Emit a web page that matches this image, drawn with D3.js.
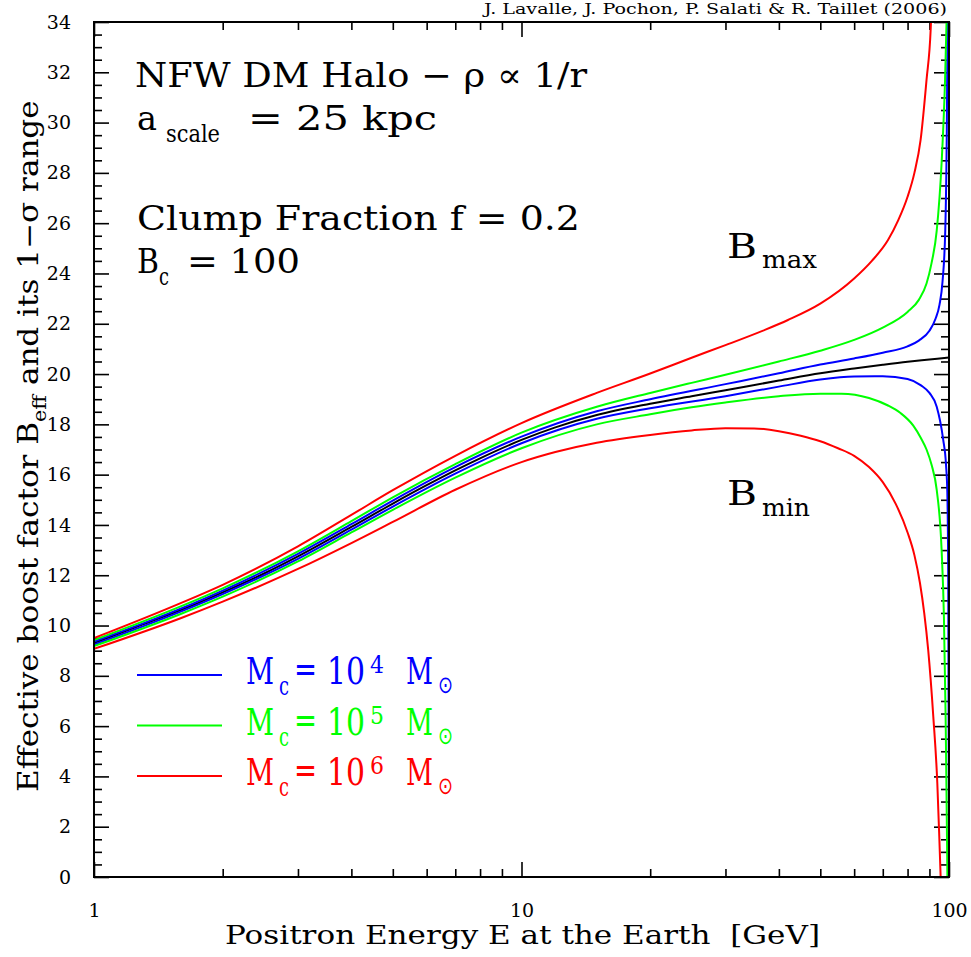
<!DOCTYPE html>
<html>
<head>
<meta charset="utf-8">
<script src="https://cdn.jsdelivr.net/npm/d3@7"></script>
<style>
  body { margin: 0; background: #fff; }
  svg { display: block; font-family: "DejaVu Serif", serif; }
</style>
</head>
<body>
<svg id="chart" width="971" height="957"></svg>
<script>
// [E (GeV), B_eff] pairs
const meanCurve = [[1,9.3],[1.25,9.93],[1.6,10.62],[2,11.32],[2.5,12.07],[3,12.75],[4,13.92],[5,14.85],[6,15.58],[7,16.17],[8,16.65],[10,17.38],[12,17.88],[15,18.37],[20,18.82],[25,19.12],[30,19.36],[40,19.74],[50,20.03],[60,20.22],[70,20.37],[80,20.49],[90,20.58],[100,20.66]];

const blueUpper = [[1,9.36],[1.6,10.68],[2,11.39],[3,12.85],[4,14.03],[5,14.97],[7,16.3],[10,17.51],[15,18.52],[20,19.0],[30,19.6],[40,20.03],[50,20.38],[60,20.62],[70,20.85],[80,21.1],[85,21.33],[90,21.72],[93,22.2],[95,22.75],[96.6,23.7],[98,25.7],[98.8,29.5],[99.3,34.5]];
const blueLower = [[1,9.24],[1.6,10.56],[2,11.25],[3,12.65],[4,13.81],[5,14.73],[7,16.04],[10,17.25],[15,18.22],[20,18.64],[30,19.12],[40,19.5],[50,19.78],[60,19.9],[70,19.91],[80,19.8],[86,19.55],[90,19.25],[93.6,18.7],[96.9,17.4],[98.4,16.4],[99.1,15.3],[99.6,11.7],[99.85,5],[100,0]];

const greenUpper = [[1,9.42],[1.6,10.77],[2,11.48],[3,12.95],[4,14.15],[5,15.1],[7,16.42],[10,17.67],[15,18.7],[20,19.25],[25,19.65],[30,19.97],[40,20.5],[50,20.93],[60,21.36],[70,21.85],[80,22.47],[85,22.95],[88.6,23.6],[91,24.4],[93.6,25.7],[96.1,28.4],[97.9,31.7],[98.85,34.5]];
const greenLower = [[1,9.18],[1.6,10.47],[2,11.15],[3,12.55],[4,13.7],[5,14.6],[7,15.88],[10,17.05],[15,18.0],[20,18.4],[25,18.68],[30,18.87],[40,19.12],[50,19.22],[56,19.22],[65,19.05],[72,18.75],[77,18.45],[82.5,17.95],[86,17.45],[88.6,17.0],[91,16.4],[93.6,15.39],[96.1,13.0],[97.3,10.35],[98.2,6.37],[98.8,2.4],[99.15,0]];

const redUpper = [[1,9.5],[1.6,10.9],[2,11.62],[3,13.15],[4,14.4],[5,15.38],[7,16.75],[10,18.05],[15,19.25],[20,20.02],[25,20.65],[30,21.15],[37,21.75],[42,22.15],[50,22.8],[60,23.8],[66,24.5],[72,25.33],[76,26.1],[80,27.05],[83,28.0],[85.8,29.3],[88.6,31.7],[90.6,33.7],[91,34.5]];
const redLower = [[1,9.07],[1.6,10.3],[2,10.95],[3,12.25],[4,13.28],[5,14.12],[7,15.4],[10,16.5],[12,16.9],[15,17.27],[20,17.58],[25,17.76],[30,17.85],[35,17.84],[40,17.73],[45,17.55],[50,17.33],[55,17.05],[60,16.75],[65,16.3],[70,15.7],[75,14.85],[80,13.7],[83,12.8],[85.5,11.7],[87.5,10.5],[89.4,9.03],[91.9,6.37],[93.9,3.73],[94.9,1.6],[95.6,0]];

const series = [
  { name: "mean", color: "#000000", pts: meanCurve },
  { name: "1e4 up", color: "#0000ff", pts: blueUpper },
  { name: "1e4 lo", color: "#0000ff", pts: blueLower },
  { name: "1e5 up", color: "#00ff00", pts: greenUpper },
  { name: "1e5 lo", color: "#00ff00", pts: greenLower },
  { name: "1e6 up", color: "#ff0000", pts: redUpper },
  { name: "1e6 lo", color: "#ff0000", pts: redLower }
];

const legendExps = ["4", "5", "6"];
const legendColors = ["#0000ff", "#00ff00", "#ff0000"];

const xMajor = [1, 10, 100];
const xMinor = [2,3,4,5,6,7,8,9,20,30,40,50,60,70,80,90];
const yMajor = d3.range(0, 34.01, 2);
const yMinor = d3.range(0, 34.01, 0.5).filter(v => v % 2 !== 0);

// plot box
const boxL = 94, boxR = 949, boxT = 22, boxB = 877;

const svg = d3.select("#chart");

const x = d3.scaleLog().domain([1, 100]).range([boxL, boxR]);
const y = d3.scaleLinear().domain([0, 34]).range([boxB, boxT]);

svg.append("defs").append("clipPath").attr("id", "clip")
  .append("rect")
  .attr("x", boxL).attr("y", boxT)
  .attr("width", boxR - boxL).attr("height", boxB - boxT);

// axes, ticks pointing inwards on all four sides
function drawAxis(axisFn, scale, pos, values, len, labels) {
  const ax = axisFn(scale).tickValues(values).tickSize(-len).tickSizeOuter(0);
  if (labels) ax.tickFormat(d3.format("d")).tickPadding(len + 8);
  else ax.tickFormat("");
  const g = svg.append("g").attr("transform", pos).call(ax);
  g.select(".domain").remove();
  g.selectAll("line").attr("stroke", "#000").attr("stroke-width", 1.6);
  g.selectAll("text").attr("fill", "#000").attr("font-size", 19)
    .attr("font-family", "DejaVu Serif");
  return g;
}

drawAxis(d3.axisLeft, y, `translate(${boxL},0)`, yMinor, 8, false);
drawAxis(d3.axisLeft, y, `translate(${boxL},0)`, yMajor, 15, true);
drawAxis(d3.axisRight, y, `translate(${boxR},0)`, yMinor, 8, false);
drawAxis(d3.axisRight, y, `translate(${boxR},0)`, yMajor, 15, false);
drawAxis(d3.axisBottom, x, `translate(0,${boxB})`, xMinor, 8, false);
const xa = drawAxis(d3.axisBottom, x, `translate(0,${boxB})`, xMajor, 15, true);
xa.selectAll("text").attr("dy", "0.9em");
drawAxis(d3.axisTop, x, `translate(0,${boxT})`, xMinor, 8, false);
drawAxis(d3.axisTop, x, `translate(0,${boxT})`, xMajor, 15, false);

// curves
const line = d3.line()
  .x(d => x(d[0]))
  .y(d => y(d[1]))
  .curve(d3.curveMonotoneX);

svg.append("g").attr("clip-path", "url(#clip)")
  .selectAll("path")
  .data(series)
  .join("path")
  .attr("d", d => line(d.pts))
  .attr("fill", "none")
  .attr("stroke", d => d.color)
  .attr("stroke-width", 2);

// frame
svg.append("rect")
  .attr("x", boxL).attr("y", boxT)
  .attr("width", boxR - boxL).attr("height", boxB - boxT)
  .attr("fill", "none").attr("stroke", "#000").attr("stroke-width", 2);

// one text element made of pieces: [string, x, baseline, size, width, font]
function label(g, parts) {
  const t = g.append("text");
  parts.forEach(([str, px, py, size, w, font]) => {
    const s = t.append("tspan")
      .attr("x", px).attr("y", py)
      .attr("font-size", size)
      .text(str);
    if (w) s.attr("textLength", w).attr("lengthAdjust", "spacingAndGlyphs");
    if (font) s.attr("font-family", font);
  });
  return t;
}

const ann = svg.append("g").attr("fill", "#000");
label(ann, [["NFW DM Halo \u2212 \u03c1 \u221d 1/r", 135, 87, 34, 452]]);
label(ann, [["a", 137, 130, 34, 20], ["scale", 166, 142, 24, 54], ["= 25 kpc", 248, 130, 34, 189]]);
label(ann, [["Clump Fraction f = 0.2", 137, 230, 34, 443]]);
label(ann, [["B", 137, 273, 34, 22], ["c", 159, 285, 24, 10], ["= 100", 187, 273, 34, 113]]);
label(ann, [["B", 727, 258, 34, 30], ["max", 762, 268, 24, 55]]);
label(ann, [["B", 727, 505, 34, 30], ["min", 762, 516, 24, 48]]);

// credit line
label(svg, [["J. Lavalle, J. Pochon, P. Salati & R. Taillet (2006)", 484, 14, 15, 463]]);

// axis titles
label(svg, [["Positron Energy E at the Earth \u00a0[GeV]", 225, 944, 26, 595]]);

const yt = svg.append("text")
  .attr("transform", "translate(38,792) rotate(-90)")
  .attr("font-size", 27);
yt.append("tspan").text("Effective boost factor B");
yt.append("tspan").attr("font-size", 18).attr("dy", 8).text("eff");
yt.append("tspan").attr("dy", -8).text(" and its 1\u2212\u03c3 range");
// stretch whole title to span
const ytLen = yt.node().getComputedTextLength();
yt.attr("transform", `translate(38,792) rotate(-90) scale(${692 / ytLen},1)`);

// legend
const leg = svg.append("g");
legendExps.forEach((e, i) => {
  const b = 684 + i * 50.5;
  const c = legendColors[i];
  leg.append("line")
    .attr("x1", 137).attr("x2", 222)
    .attr("y1", b - 9).attr("y2", b - 9)
    .attr("stroke", c).attr("stroke-width", 2);
  const g = leg.append("g").attr("fill", c);
  label(g, [
    ["M", 246, b, 38, 28],
    ["c", 279, b + 11, 26, 10],
    ["=", 294, b - 2, 38, 23],
    ["10", 327, b, 38, 38],
    [e, 370, b - 11, 24, 14],
    ["M", 406, b, 38, 27],
    ["\u2299", 438, b + 9, 24, 15, "DejaVu Sans"]
  ]);
});
</script>
</body>
</html>
